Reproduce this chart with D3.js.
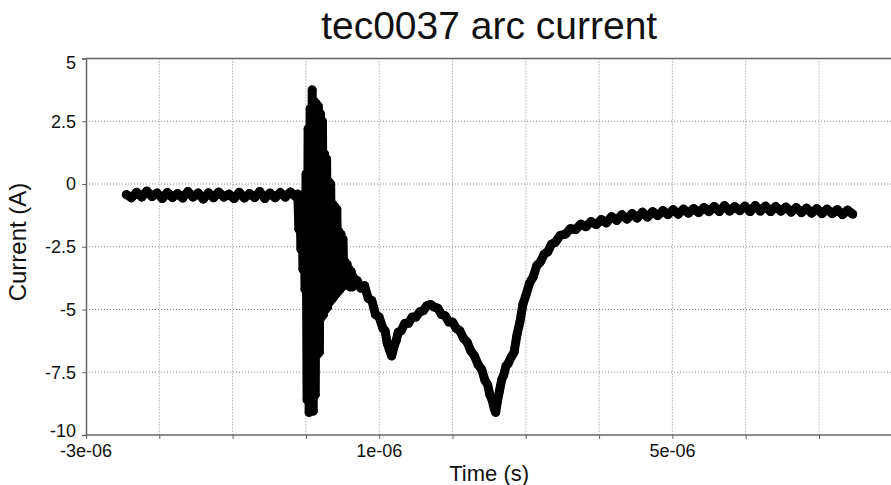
<!DOCTYPE html>
<html>
<head>
<meta charset="utf-8">
<script src="https://cdn.jsdelivr.net/npm/d3@7"></script>
<style>
  body { margin: 0; background: #fff; }
  text { font-family: "Liberation Sans", Arial, sans-serif; fill: #111; }
  .grid line { stroke: #8a8a8a; stroke-dasharray: 1,2; }
  .axis path, .axis line { stroke: #666; }
</style>
</head>
<body>
<div id="chart"></div>
<script>

// time in microseconds (axis shows seconds)
var timeUs = [
  -2.45,-2.38,-2.31,-2.24,-2.17,-2.10,-2.03,-1.96,-1.89,-1.82,-1.75,-1.68,-1.61,-1.54,-1.47,-1.40,-1.33,
  -1.26,-1.19,-1.12,-1.05,-0.98,-0.91,-0.84,-0.77,-0.70,-0.63,-0.56,-0.49,-0.42,-0.35,-0.28,-0.21,-0.14,
  -0.110,-0.096,-0.082,-0.068,-0.054,-0.040,-0.026,-0.012,0.002,0.016,0.030,0.044,0.058,0.072,0.086,0.100,
  0.114,0.128,0.142,0.156,0.170,0.184,0.198,0.212,0.226,0.240,0.254,0.268,0.282,0.296,0.310,0.324,0.338,
  0.352,0.366,0.380,0.394,0.408,0.422,0.436,0.450,0.464,0.478,0.492,0.506,0.520,0.534,0.548,0.562,0.576,
  0.590,0.604,0.618,0.632,0.646,0.660,
  0.70,0.75,0.80,0.85,0.90,0.95,1.00,1.05,1.08,1.11,1.14,1.17,1.20,1.23,1.26,1.30,1.35,1.40,1.45,1.50,
  1.55,1.60,1.65,1.70,1.75,1.80,1.85,1.90,1.95,2.00,2.05,2.10,2.15,2.20,2.25,2.30,2.35,2.40,2.44,2.48,
  2.51,2.54,2.57,2.59,2.61,2.64,2.67,2.70,2.73,2.76,2.80,2.84,2.88,2.92,2.96,3.00,3.05,3.10,3.15,3.20,
  3.25,3.30,3.35,3.40,3.47,3.54,3.61,3.68,3.75,3.82,3.89,3.96,4.03,4.10,4.17,4.24,4.31,4.38,4.45,4.52,
  4.59,4.66,4.73,4.80,4.87,4.94,5.01,5.08,5.15,5.22,5.29,5.36,5.43,5.50,5.57,5.64,5.71,5.78,5.85,5.92,
  5.99,6.06,6.13,6.20,6.27,6.34,6.41,6.48,6.55,6.62,6.69,6.76,6.83,6.90,6.97,7.04,7.11,7.18,7.25,7.32,
  7.39,7.46
];

var currentA = [
  -0.42,-0.55,-0.33,-0.52,-0.28,-0.50,-0.36,-0.58,-0.34,-0.54,-0.38,-0.56,-0.30,-0.52,-0.36,-0.60,-0.35,
  -0.55,-0.32,-0.52,-0.40,-0.58,-0.33,-0.56,-0.38,-0.54,-0.30,-0.58,-0.36,-0.55,-0.34,-0.52,-0.32,-0.50,
  -0.40,-1.80,-0.45,-2.60,-0.50,-3.40,-0.60,-4.20,0.40,-8.60,2.20,-9.10,3.00,-8.90,3.75,-9.05,
  3.30,-8.40,3.20,-6.80,3.10,-6.70,2.80,-5.30,2.50,-5.20,1.20,-5.00,1.00,-4.90,0.10,-4.70,0.00,
  -4.60,-0.80,-4.50,-0.90,-4.40,-1.00,-4.30,-1.90,-4.20,-2.00,-4.10,-2.20,-4.00,-3.10,-4.00,-3.20,-4.00,
  -3.40,-4.10,-3.50,-4.10,-3.70,-4.00,
  -3.85,-4.15,-4.05,-4.55,-4.65,-5.20,-5.30,-5.75,-5.85,-6.35,-6.60,-6.85,-6.50,-6.25,-5.90,-5.85,-5.55,-5.55,-5.30,-5.30,
  -5.10,-5.05,-4.85,-4.80,-4.90,-4.95,-5.20,-5.25,-5.50,-5.50,-5.75,-5.85,-6.15,-6.30,-6.65,-6.85,-7.20,-7.40,-7.80,-8.00,
  -8.40,-8.60,-8.95,-9.10,-8.70,-8.25,-7.80,-7.60,-7.25,-7.15,-6.90,-6.70,-6.00,-5.50,-4.80,-4.45,-3.95,-3.70,-3.25,-3.10,
  -2.80,-2.70,-2.40,-2.33,-2.05,-2.00,-1.78,-1.82,-1.60,-1.70,-1.50,-1.62,-1.42,-1.55,-1.30,-1.45,-1.22,-1.40,-1.18,-1.36,
  -1.12,-1.32,-1.10,-1.26,-1.06,-1.22,-1.02,-1.20,-1.00,-1.16,-0.98,-1.14,-0.94,-1.10,-0.90,-1.10,-0.86,-1.08,-0.90,-1.06,
  -0.88,-1.10,-0.86,-1.08,-0.88,-1.10,-0.90,-1.08,-0.92,-1.12,-0.94,-1.14,-0.96,-1.16,-0.98,-1.18,-1.00,-1.18,-1.02,-1.22,
  -1.04,-1.20
];

var xGridValues = [-2, -1, 0, 1, 2, 3, 4, 5, 6, 7];
var xTickValues = [-3, -2, -1, 0, 1, 2, 3, 4, 5, 6, 7];
var xLabelValues = [-3, 1, 5];
var xLabelText = ["-3e-06", "1e-06", "5e-06"];
var yTickValues = [-10, -7.5, -5, -2.5, 0, 2.5, 5];
var yTickText = ["-10", "-7.5", "-5", "-2.5", "0", "2.5", "5"];

var width = 891, height = 485;
var plot = {left: 86, right: 892.3, top: 58.5, bottom: 435};

var x = d3.scaleLinear().domain([-3, 8]).range([plot.left, plot.right]),
    y = d3.scaleLinear().domain([-10, 5]).range([plot.bottom, plot.top]);

var svg = d3.select("#chart").append("svg")
    .attr("width", width)
    .attr("height", height);

// dotted grid
var grid = svg.append("g").attr("class", "grid");
grid.selectAll("line.v")
    .data(xGridValues)
  .enter().append("line")
    .attr("x1", function(d) { return x(d); })
    .attr("x2", function(d) { return x(d); })
    .attr("y1", plot.top)
    .attr("y2", plot.bottom);
grid.selectAll("line.h")
    .data(yTickValues.filter(function(d) { return d > -10 && d < 5; }))
  .enter().append("line")
    .attr("y1", function(d) { return y(d); })
    .attr("y2", function(d) { return y(d); })
    .attr("x1", plot.left)
    .attr("x2", width);

// frame top
svg.append("line")
    .attr("x1", plot.left).attr("x2", width)
    .attr("y1", plot.top).attr("y2", plot.top)
    .style("stroke", "#666").style("stroke-width", 1.5);

var xAxis = d3.axisBottom(x)
    .tickValues(xTickValues)
    .tickSize(4)
    .tickFormat("");

var yAxis = d3.axisLeft(y)
    .tickValues(yTickValues)
    .tickSize(4)
    .tickFormat(function(d, i) { return yTickText[i]; });

svg.append("g")
    .attr("class", "x axis")
    .attr("transform", "translate(0," + plot.bottom + ")")
    .call(xAxis)
    .call(function(g) { g.select(".domain").attr("d", "M" + plot.left + ",0H" + width).style("stroke-width", 1.5); });

svg.append("g")
    .attr("class", "y axis")
    .attr("transform", "translate(" + plot.left + ",0)")
    .call(yAxis)
    .call(function(g) {
      g.select(".domain").style("stroke-width", 1.5);
      g.selectAll("text")
          .style("font-size", "18px")
          .style("fill", "#111")
          .attr("x", -10)
          // end labels are nudged inside the frame
          .attr("y", function(d) { return d === -10 ? -4 : (d === 5 ? 4 : 0); });
    });

svg.selectAll("text.xlabel")
    .data(xLabelValues)
  .enter().append("text")
    .attr("class", "xlabel")
    .attr("x", function(d) { return x(d); })
    .attr("y", 457)
    .attr("text-anchor", "middle")
    .style("font-size", "18px")
    .text(function(d, i) { return xLabelText[i]; });

var points = timeUs.map(function(t, i) { return {t: t, v: currentA[i]}; });

var line = d3.line()
    .x(function(d) { return x(d.t); })
    .y(function(d) { return y(d.v); });

// dense markers drawn as a thick joined stroke plus the dots themselves
var series = svg.append("g");
series.append("path")
    .datum(points)
    .attr("d", line)
    .style("fill", "none")
    .style("stroke", "#000")
    .style("stroke-width", 9)
    .style("stroke-linejoin", "round")
    .style("stroke-linecap", "round");

series.selectAll("circle")
    .data(points)
  .enter().append("circle")
    .attr("cx", function(d) { return x(d.t); })
    .attr("cy", function(d) { return y(d.v); })
    .attr("r", 4.4)
    .style("fill", "#000");

svg.append("text")
    .attr("x", (plot.left + plot.right) / 2)
    .attr("y", 39)
    .attr("text-anchor", "middle")
    .style("font-size", "39px")
    .text("tec0037 arc current");

svg.append("text")
    .attr("x", (plot.left + plot.right) / 2)
    .attr("y", 481)
    .attr("text-anchor", "middle")
    .style("font-size", "22px")
    .text("Time (s)");

svg.append("text")
    .attr("transform", "translate(26,242) rotate(-90)")
    .attr("text-anchor", "middle")
    .style("font-size", "24px")
    .text("Current (A)");

</script>
</body>
</html>
